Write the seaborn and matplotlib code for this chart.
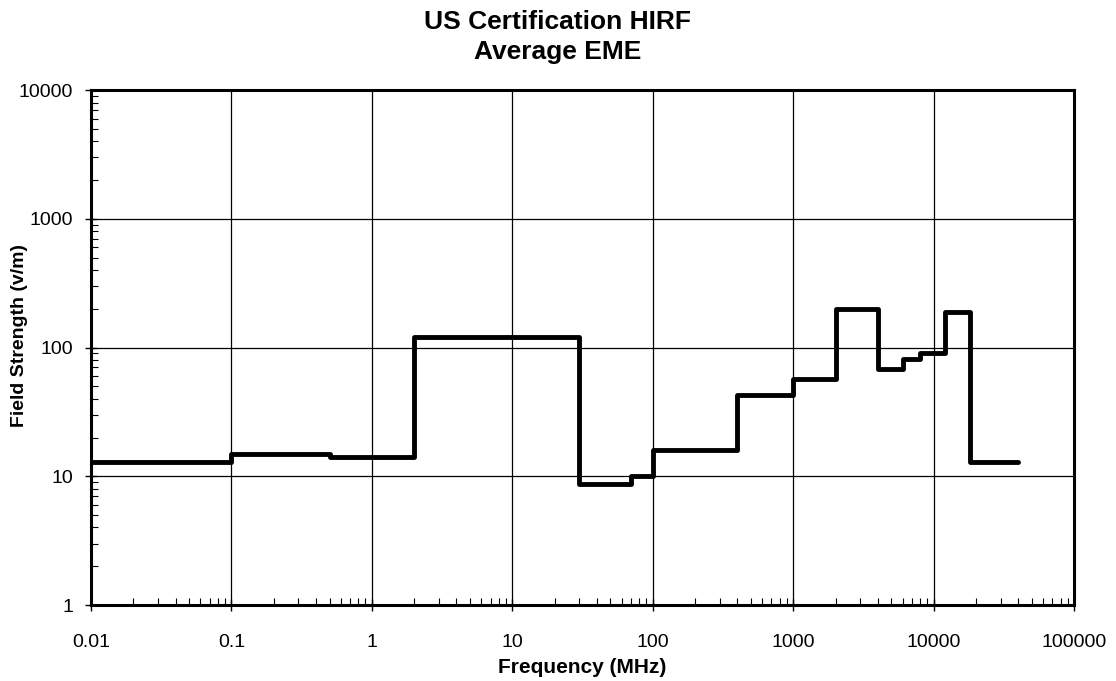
import matplotlib
matplotlib.use("Agg")
import matplotlib.pyplot as plt
import matplotlib.ticker as mticker
import seaborn as sns

sns.set_style("white")
plt.rcParams['font.family'] = ['Liberation Sans', 'DejaVu Sans']

# step edges (MHz) and field strength on each step (V/m)
freq_edges = [0.01, 0.1, 0.5, 2, 30, 70, 100, 400, 1000, 2000, 4000, 6000, 8000, 12000, 18000, 40000]
field_avg = [13, 15, 14, 120, 8.7, 10, 16, 43, 57, 200, 68, 82, 90, 190, 13]
x_ticks = [0.01, 0.1, 1, 10, 100, 1000, 10000, 100000]
y_ticks = [1, 10, 100, 1000, 10000]

y_vals = field_avg + [field_avg[-1]]

fig = plt.figure(figsize=(11.16, 6.81), dpi=100)
ax = fig.add_axes([0.0815, 0.1116, 0.881, 0.7562])

sns.lineplot(x=freq_edges, y=y_vals, drawstyle="steps-post", color="black",
             linewidth=3.5, estimator=None, sort=False, ax=ax)

ax.set_xscale("log")
ax.set_yscale("log")
ax.set_xlim(0.01, 100000)
ax.set_ylim(1, 10000)
ax.set_xticks(x_ticks)
ax.set_yticks(y_ticks)
fmt = mticker.FuncFormatter(lambda v, p: f"{v:.10g}")
ax.xaxis.set_major_formatter(fmt)
ax.yaxis.set_major_formatter(fmt)
ax.xaxis.set_minor_locator(mticker.LogLocator(base=10, subs=range(2, 10), numticks=20))
ax.yaxis.set_minor_locator(mticker.LogLocator(base=10, subs=range(2, 10), numticks=20))
ax.xaxis.set_minor_formatter(mticker.NullFormatter())
ax.yaxis.set_minor_formatter(mticker.NullFormatter())

ax.grid(True, which="major", color="black", linewidth=0.9)
ax.tick_params(which="both", bottom=True, left=True, top=False, right=False,
               colors="black", labelcolor="black")
ax.tick_params(which="major", direction="inout", length=8, width=1, labelsize=14)
ax.tick_params(which="minor", direction="in", length=5, width=0.8)
ax.tick_params(axis="x", which="major", pad=17)
ax.tick_params(axis="y", which="major", pad=9)
for s in ax.spines.values():
    s.set_color("black")
    s.set_linewidth(2.2)

ax.set_xlabel("Frequency (MHz)", fontsize=15, fontweight="bold", color="black", labelpad=5)
ax.set_ylabel("Field Strength (v/m)", fontsize=14, fontweight="bold", color="black")
ax.yaxis.set_label_coords(-0.064, 0.524)
fig.text(0.5, 0.985, "US Certification HIRF\nAverage EME", fontsize=19, fontweight="bold",
         color="black", ha="center", va="top", linespacing=1.3)

fig.savefig("out.png", dpi=100)
